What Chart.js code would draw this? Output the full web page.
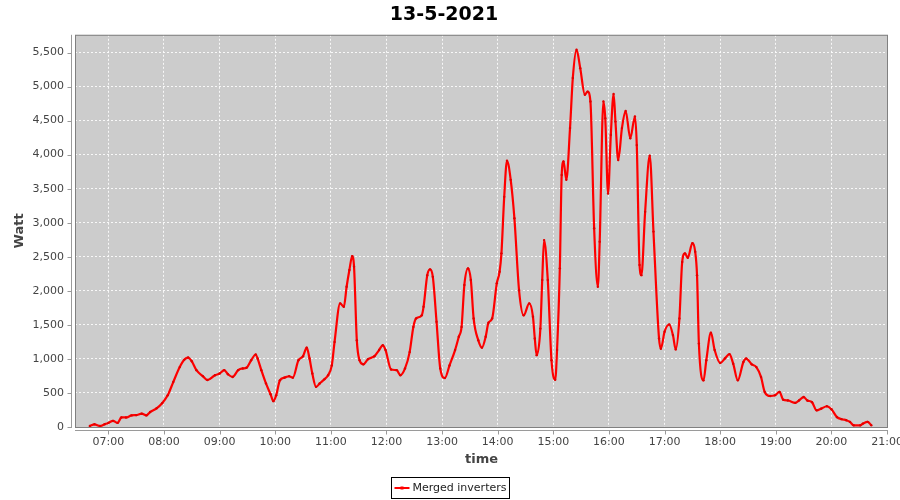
<!DOCTYPE html>
<html>
<head>
<meta charset="utf-8">
<title>13-5-2021</title>
<script src="https://cdn.jsdelivr.net/npm/chart.js@4.4.1/dist/chart.umd.min.js"></script>
<style>
  html, body { margin: 0; padding: 0; background: #ffffff; }
  #wrap { width: 900px; height: 500px; }
</style>
</head>
<body>
<div id="wrap"><canvas id="powerChart" width="900" height="500"></canvas></div>
<script>
// =============================================================================
// Inverter output for one day (13-5-2021)
// =============================================================================

// ---- data ----
const timeLabels = [
    '06:40', '06:45', '06:51', '06:56', '07:00', '07:05', '07:10', '07:14', '07:19', '07:25',
    '07:30', '07:36', '07:41', '07:45', '07:52', '07:58', '08:04', '08:10', '08:17', '08:22',
    '08:26', '08:30', '08:35', '08:42', '08:47', '08:55', '09:00', '09:05', '09:09', '09:14',
    '09:20', '09:25', '09:29', '09:34', '09:39', '09:41', '09:45', '09:50', '09:55', '09:58',
    '10:01', '10:05', '10:10', '10:15', '10:19', '10:25', '10:30', '10:34', '10:37', '10:40',
    '10:44', '10:48', '10:53', '10:57', '11:01', '11:04', '11:10', '11:14', '11:17', '11:20',
    '11:23', '11:25', '11:28', '11:31', '11:35', '11:40', '11:47', '11:52', '11:56', '11:59',
    '12:05', '12:11', '12:15', '12:20', '12:25', '12:29', '12:32', '12:38', '12:40', '12:44',
    '12:47', '12:50', '12:54', '12:58', '13:03', '13:08', '13:14', '13:18', '13:21', '13:24',
    '13:28', '13:31', '13:34', '13:39', '13:43', '13:47', '13:50', '13:54', '13:59', '14:02',
    '14:04', '14:07', '14:10', '14:14', '14:18', '14:23', '14:28', '14:34', '14:38', '14:40',
    '14:42', '14:46', '14:48', '14:50', '14:54', '14:58', '15:02', '15:04', '15:07', '15:09',
    '15:11', '15:14', '15:18', '15:21', '15:25', '15:29', '15:34', '15:37', '15:40', '15:44',
    '15:48', '15:50', '15:54', '15:56', '15:59', '16:02', '16:05', '16:07', '16:10', '16:14',
    '16:18', '16:23', '16:28', '16:30', '16:33', '16:35', '16:39', '16:44', '16:48', '16:54',
    '16:56', '17:00', '17:05', '17:09', '17:12', '17:16', '17:19', '17:22', '17:25', '17:30',
    '17:33', '17:35', '17:37', '17:42', '17:45', '17:50', '17:54', '18:00', '18:05', '18:10',
    '18:14', '18:19', '18:25', '18:28', '18:34', '18:39', '18:44', '18:48', '18:54', '18:59',
    '19:04', '19:08', '19:13', '19:21', '19:25', '19:30', '19:34', '19:39', '19:44', '19:49',
    '19:55', '20:00', '20:06', '20:11', '20:16', '20:20', '20:24', '20:31', '20:34', '20:39',
    '20:43'
];

const wattValues = [
    15, 40, 15, 40, 60, 90, 60, 140, 140, 170,
    175, 195, 170, 220, 275, 350, 465, 660, 880, 990,
    1020, 965, 835, 745, 690, 760, 785, 835, 775, 735,
    835, 860, 870, 980, 1065, 1005, 835, 640, 480, 380,
    465, 685, 725, 745, 725, 980, 1040, 1165, 1005, 785,
    590, 640, 700, 760, 905, 1250, 1815, 1765, 2060, 2305,
    2510, 2355, 1275, 980, 920, 995, 1040, 1130, 1200, 1130,
    845, 835, 760, 860, 1100, 1470, 1595, 1640, 1765, 2230,
    2315, 2205, 1545, 860, 720, 905, 1130, 1325, 1470, 2085,
    2330, 2160, 1595, 1275, 1165, 1325, 1530, 1595, 2110, 2280,
    2550, 3380, 3910, 3630, 3065, 2010, 1640, 1815, 1620, 1300,
    1055, 1445, 2160, 2745, 2160, 980, 695, 1130, 2330, 3700,
    3900, 3630, 4390, 5125, 5540, 5270, 4880, 4925, 4780, 2920,
    2060, 2720, 4780, 4535, 3430, 4290, 4890, 4485, 3920, 4390,
    4640, 4240, 4560, 4140, 2380, 2230, 3160, 3985, 2870, 1300,
    1150, 1400, 1505, 1350, 1140, 1595, 2425, 2550, 2485, 2700,
    2575, 2230, 1225, 685, 980, 1385, 1130, 940, 1005, 1070,
    930, 685, 955, 1005, 920, 880, 735, 515, 455, 465,
    515, 400, 390, 355, 390, 440, 390, 365, 245, 270,
    305, 260, 145, 115, 100, 75, 25, 25, 50, 75,
    25
];

const xTickLabels = ['07:00', '08:00', '09:00', '10:00', '11:00', '12:00', '13:00',
                     '14:00', '15:00', '16:00', '17:00', '18:00', '19:00', '20:00', '21:00'];
const yTickValues = [0, 500, 1000, 1500, 2000, 2500, 3000, 3500, 4000, 4500, 5000, 5500];

const seriesName = 'Merged inverters';
const chartTitle = '13-5-2021';

// ---- helpers ----
const toMin = (s) => {
    const [h, m] = s.split(':').map(Number);
    return h * 60 + m;
};
const fmtTime = (v) => {
    const h = Math.floor(v / 60), m = Math.round(v % 60);
    return String(h).padStart(2, '0') + ':' + String(m).padStart(2, '0');
};

const FONT = "'DejaVu Sans', sans-serif";
const theme = {
    plotBg: '#cccccc',
    grid: 'rgba(255,255,255,0.85)',
    axis: '#9a9a9a',
    frame: '#808080',
    text: '#444444',
    line: '#ff0000'
};

// ---- plugins: JFreeChart-ish frame, offset axes, boxed legend ----
const plotDecor = {
    id: 'plotDecor',
    beforeDraw(chart) {
        const { ctx, chartArea: a } = chart;
        ctx.save();
        ctx.fillStyle = '#ffffff';
        ctx.fillRect(0, 0, chart.width, chart.height);
        ctx.fillStyle = theme.plotBg;
        ctx.fillRect(a.left, a.top, a.right - a.left, a.bottom - a.top);
        ctx.restore();
    },
    afterDraw(chart) {
        const { ctx, chartArea: a, scales } = chart;
        ctx.save();
        // plot outline
        ctx.strokeStyle = theme.frame;
        ctx.lineWidth = 1;
        ctx.strokeRect(a.left + 0.5, a.top + 0.5, a.right - a.left - 1, a.bottom - a.top);

        // axis lines sit 4px off the plot, with small outside ticks
        ctx.strokeStyle = theme.axis;
        ctx.beginPath();
        const ax = a.left - 3.5;
        ctx.moveTo(ax, a.top);
        ctx.lineTo(ax, a.bottom + 1);
        yTickValues.forEach(v => {
            const y = Math.round(scales.y.getPixelForValue(v)) + 0.5;
            ctx.moveTo(ax - 4, y);
            ctx.lineTo(ax, y);
        });
        const ay = a.bottom + 3.5;
        ctx.moveTo(a.left, ay);
        ctx.lineTo(a.right, ay);
        xTickLabels.forEach(t => {
            const x = Math.round(scales.x.getPixelForValue(toMin(t))) + 0.5;
            ctx.moveTo(x, ay);
            ctx.lineTo(x, ay + 4);
        });
        ctx.stroke();

        // legend box
        ctx.font = `11px ${FONT}`;
        const tw = ctx.measureText(seriesName).width;
        const w = Math.round(21 + tw + 3);
        const h = 21;
        const left = Math.round(chart.width / 2 - w / 2) + 0.5;
        const top = chart.height - 23 + 0.5;
        ctx.strokeStyle = '#000000';
        ctx.strokeRect(left, top, w, h);
        const cy = top + h / 2;
        ctx.strokeStyle = theme.line;
        ctx.lineWidth = 2;
        ctx.beginPath();
        ctx.moveTo(left + 3, cy);
        ctx.lineTo(left + 18, cy);
        ctx.stroke();
        ctx.fillStyle = theme.line;
        ctx.fillRect(left + 9, cy - 1.5, 3, 3);
        ctx.fillStyle = '#222222';
        ctx.textBaseline = 'middle';
        ctx.textAlign = 'left';
        ctx.fillText(seriesName, left + 21, cy + 0.5);
        ctx.restore();
    }
};

// ---- chart ----
const points = timeLabels.map((t, i) => ({ x: toMin(t), y: wattValues[i] }));

new Chart(document.getElementById('powerChart'), {
    type: 'line',
    data: {
        datasets: [{
            label: seriesName,
            data: points,
            borderColor: theme.line,
            borderWidth: 2.2,
            pointRadius: 1.2,
            pointBackgroundColor: '#e00000',
            pointBorderWidth: 0,
            cubicInterpolationMode: 'monotone',
            fill: false
        }]
    },
    options: {
        responsive: false,
        animation: false,
        layout: { padding: { left: 0, right: 12, top: 0, bottom: 28 } },
        plugins: {
            legend: { display: false },
            tooltip: { enabled: false },
            title: {
                display: true,
                text: chartTitle,
                color: '#000000',
                font: { family: FONT, size: 19, weight: 'bold' },
                padding: { top: 4, bottom: 8 }
            }
        },
        scales: {
            x: {
                type: 'linear',
                min: toMin('06:24'),
                max: toMin('21:01'),
                afterBuildTicks: (s) => { s.ticks = xTickLabels.map(t => ({ value: toMin(t) })); },
                afterFit: (s) => {
                    s.height = 45;
                    // let the last label hang past the plot like the original
                    s.paddingLeft = 0;
                    s.paddingRight = 0;
                },
                grid: { color: theme.grid, lineWidth: 1, drawTicks: false },
                border: { display: false, dash: [2, 2] },
                ticks: {
                    callback: (v) => fmtTime(v),
                    color: theme.text,
                    font: { family: FONT, size: 11 },
                    padding: 9,
                    autoSkip: false,
                    maxRotation: 0
                },
                title: {
                    display: true,
                    text: 'time',
                    color: theme.text,
                    font: { family: FONT, size: 13, weight: 'bold' },
                    padding: { top: 0, bottom: 5 }
                }
            },
            y: {
                min: 0,
                max: 5760,
                afterBuildTicks: (s) => { s.ticks = yTickValues.map(v => ({ value: v })); },
                afterFit: (s) => {
                    s.width = 75;
                    s.paddingTop = 0;
                    s.paddingBottom = 0;
                },
                grid: { color: theme.grid, lineWidth: 1, drawTicks: false },
                border: { display: false, dash: [2, 2] },
                ticks: {
                    callback: (v) => v.toLocaleString('en-US'),
                    color: theme.text,
                    font: { family: FONT, size: 11 },
                    padding: 11
                },
                title: {
                    display: true,
                    text: 'Watt',
                    color: theme.text,
                    font: { family: FONT, size: 13, weight: 'bold' },
                    padding: { top: 12, bottom: 0 }
                }
            }
        }
    },
    plugins: [plotDecor]
});
</script>
</body>
</html>
